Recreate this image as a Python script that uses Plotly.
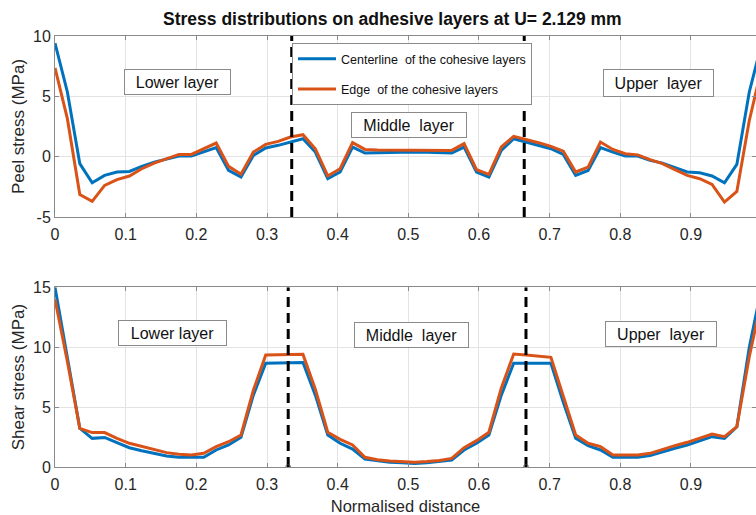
import plotly.graph_objects as go

# ---------------- data ----------------
x_dist = [0.0, 0.0175, 0.0351, 0.0526, 0.0702, 0.0877, 0.1053, 0.1228, 0.1404, 0.1579,
          0.1754, 0.1930, 0.2105, 0.2281, 0.2456, 0.2632, 0.2807, 0.2982, 0.3158, 0.3333,
          0.3509, 0.3684, 0.3860, 0.4035, 0.4211, 0.4386, 0.4561, 0.4737, 0.4912, 0.5088,
          0.5263, 0.5439, 0.5614, 0.5789, 0.5965, 0.6140, 0.6316, 0.6491, 0.6667, 0.6842,
          0.7018, 0.7193, 0.7368, 0.7544, 0.7719, 0.7895, 0.8070, 0.8246, 0.8421, 0.8596,
          0.8772, 0.8947, 0.9123, 0.9298, 0.9474, 0.9649, 0.9825, 1.0]

peel_center = [9.4, 5.36, -0.58, -2.16, -1.55, -1.27, -1.22, -0.8, -0.45, -0.17,
               0.05, 0.05, 0.38, 0.75, -1.14, -1.69, 0.1, 0.72, 0.94, 1.2,
               1.49, 0.38, -1.83, -1.27, 0.8, 0.3, 0.33, 0.36, 0.38, 0.38,
               0.36, 0.34, 0.3, 0.8, -1.27, -1.69, 0.52, 1.49, 1.21, 0.94,
               0.66, 0.19, -1.55, -1.14, 0.75, 0.38, 0.05, 0.05, -0.31, -0.53,
               -0.91, -1.27, -1.33, -1.6, -2.16, -0.64, 5.36, 9.4]

peel_edge = [7.35, 3.15, -3.13, -3.7, -2.38, -1.9, -1.6, -1.0, -0.53, -0.17,
             0.19, 0.19, 0.66, 1.13, -0.8, -1.45, 0.38, 1.02, 1.27, 1.63,
             1.82, 0.66, -1.6, -1.0, 1.16, 0.6, 0.55, 0.55, 0.58, 0.58,
             0.56, 0.55, 0.52, 1.08, -1.08, -1.47, 0.8, 1.68, 1.43, 1.16,
             0.85, 0.46, -1.27, -0.86, 1.21, 0.6, 0.25, 0.15, -0.25, -0.58,
             -1.08, -1.55, -1.83, -2.3, -3.76, -2.88, 3.0, 7.35]

shear_center = [15.0, 9.2, 3.23, 2.39, 2.47, 2.03, 1.61, 1.36, 1.14, 0.92,
                0.81, 0.78, 0.81, 1.42, 1.84, 2.48, 6.0, 8.66, 8.7, 8.72,
                8.72, 6.0, 2.67, 1.98, 1.5, 0.67, 0.5, 0.39, 0.36, 0.3,
                0.36, 0.45, 0.58, 1.42, 1.98, 2.67, 6.0, 8.66, 8.66, 8.66,
                8.66, 5.4, 2.39, 1.78, 1.42, 0.81, 0.78, 0.81, 0.95, 1.28,
                1.56, 1.84, 2.2, 2.53, 2.39, 3.36, 10.0, 15.0]

shear_edge = [14.0, 8.8, 3.23, 2.87, 2.87, 2.39, 1.98, 1.7, 1.42, 1.2,
              1.06, 1.0, 1.14, 1.7, 2.11, 2.67, 6.4, 9.35, 9.37, 9.4,
              9.4, 6.5, 2.9, 2.31, 1.84, 0.81, 0.6, 0.5, 0.45, 0.4,
              0.45, 0.55, 0.72, 1.61, 2.2, 2.9, 6.6, 9.43, 9.35, 9.27,
              9.15, 5.9, 2.67, 1.98, 1.7, 1.0, 0.97, 1.0, 1.14, 1.48,
              1.78, 2.06, 2.42, 2.75, 2.53, 3.36, 9.2, 14.0]

peel_bounds = [0.335, 0.664]
shear_bounds = [0.33, 0.6665]
peel_range = [-5, 10]
shear_range = [0, 15]
peel_ticks = [-5, 0, 5, 10]
peel_ticklabels = ["-5", "0", "5", "10"]

series_names = ["Centerline\u00a0 of the cohesive layers", "Edge\u00a0 of the cohesive layers"]
layer_labels = ["Lower layer", "Middle\u00a0 layer", "Upper\u00a0 layer"]
title_text = "Stress distributions on adhesive layers at U= 2.129 mm"

BLUE = "#0072BD"
ORANGE = "#D95319"
FONT = "Liberation Sans, Arial, sans-serif"
TXT = "#262626"

fig = go.Figure()

# peel stress
fig.add_trace(go.Scatter(x=x_dist, y=peel_center, mode="lines", name=series_names[0],
                         legendgroup="c", line=dict(color=BLUE, width=3),
                         xaxis="x", yaxis="y"))
fig.add_trace(go.Scatter(x=x_dist, y=peel_edge, mode="lines", name=series_names[1],
                         legendgroup="e", line=dict(color=ORANGE, width=3),
                         xaxis="x", yaxis="y"))
# shear stress
fig.add_trace(go.Scatter(x=x_dist, y=shear_center, mode="lines", showlegend=False,
                         legendgroup="c", line=dict(color=BLUE, width=3),
                         xaxis="x2", yaxis="y2"))
fig.add_trace(go.Scatter(x=x_dist, y=shear_edge, mode="lines", showlegend=False,
                         legendgroup="e", line=dict(color=ORANGE, width=3),
                         xaxis="x2", yaxis="y2"))

# dashed layer boundaries
for xb in peel_bounds:
    fig.add_trace(go.Scatter(x=[xb, xb], y=peel_range, mode="lines", showlegend=False,
                             line=dict(color="black", width=3, dash="10px,6px"),
                             xaxis="x", yaxis="y", hoverinfo="skip"))
for xb in shear_bounds:
    fig.add_trace(go.Scatter(x=[xb, xb], y=shear_range, mode="lines+markers", showlegend=False,
                             line=dict(color="black", width=3, dash="10px,6px"),
                             marker=dict(symbol="circle-open", size=[5, 0], color="#444",
                                         line=dict(width=1)),
                             xaxis="x2", yaxis="y2", hoverinfo="skip"))

axis_common = dict(showgrid=True, gridcolor="#e3e3e3", gridwidth=1, zeroline=False,
                   showline=True, linecolor="#8a8a8a", linewidth=1, mirror="ticks",
                   ticks="inside", ticklen=4, tickcolor="#8a8a8a",
                   tickfont=dict(family=FONT, size=16, color=TXT))

fig.update_layout(
    width=756, height=515,
    margin=dict(l=55, r=0, t=36, b=48),
    paper_bgcolor="white", plot_bgcolor="white",
    font=dict(family=FONT, color=TXT),
    title=dict(text="<b>" + title_text + "</b>", x=0.519, xref="container", xanchor="center",
               y=1 - 19 / 515, yref="container", yanchor="middle",
               font=dict(family=FONT, size=17.5, color="#111")),
    xaxis=dict(domain=[0, 1], anchor="y", range=[0, 0.992], tick0=0, dtick=0.1,
               ticklabelstandoff=3, **axis_common),
    yaxis=dict(domain=[0.58, 1], anchor="x", range=peel_range,
               tickmode="array", tickvals=peel_ticks, ticktext=peel_ticklabels,
               title=dict(text="Peel stress (MPa)", font=dict(family=FONT, size=17, color=TXT),
                          standoff=4), **axis_common),
    xaxis2=dict(domain=[0, 1], anchor="y2", range=[0, 0.992], tick0=0, dtick=0.1,
                ticklabelstandoff=3,
                title=dict(text="Normalised distance", font=dict(family=FONT, size=16.5, color=TXT),
                           standoff=8), **axis_common),
    yaxis2=dict(domain=[0, 0.417], anchor="x2", range=shear_range, tick0=0, dtick=5,
                title=dict(text="Shear stress (MPa)", font=dict(family=FONT, size=17, color=TXT),
                           standoff=4), **axis_common),
    legend=dict(x=(292 - 55) / 701, y=(467 - 43) / 431, xanchor="left", yanchor="top",
                bgcolor="white", bordercolor="#8a8a8a", borderwidth=1,
                font=dict(family=FONT, size=12.5, color="#111"),
                itemwidth=38, tracegroupgap=11, traceorder="grouped"),
    showlegend=True,
)

box = dict(showarrow=False, bordercolor="#8a8a8a", borderwidth=1, borderpad=0,
           bgcolor="white", align="center", font=dict(family=FONT, size=16, color="#111"))

annots = [
    dict(text=layer_labels[0], x=0.1728, y=6.16, xref="x", yref="y", width=105, height=24),
    dict(text=layer_labels[1], x=0.5007, y=2.59, xref="x", yref="y", width=114, height=24),
    dict(text=layer_labels[2], x=0.854, y=6.08, xref="x", yref="y", width=109, height=26),
    dict(text=layer_labels[0], x=0.1657, y=11.15, xref="x2", yref="y2", width=107, height=24),
    dict(text=layer_labels[1], x=0.504, y=11.04, xref="x2", yref="y2", width=113, height=24),
    dict(text=layer_labels[2], x=0.857, y=11.13, xref="x2", yref="y2", width=110, height=24),
]
fig.update_layout(annotations=[dict(**a, **box) for a in annots])

fig.write_html("out.html")
